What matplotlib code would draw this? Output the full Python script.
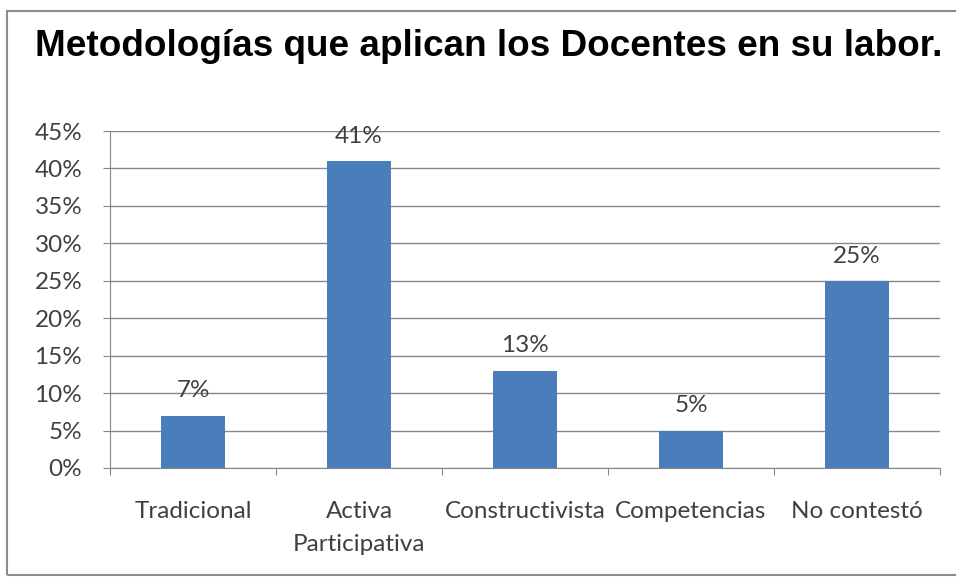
import matplotlib.pyplot as plt
from matplotlib.patches import Rectangle

# Data
categorias = ['Tradicional', 'Activa\nParticipativa', 'Constructivista', 'Competencias', 'No contestó']
porcentajes = [7, 41, 13, 5, 25]
etiquetas = ['7%', '41%', '13%', '5%', '25%']
yticks = [0, 5, 10, 15, 20, 25, 30, 35, 40, 45]
titulo = 'Metodologías que aplican los Docentes en su labor.'

color_barra = '#4A7EBB'
gris_texto = '#404040'
gris_linea = '#868686'

fig = plt.figure(figsize=(9.56, 5.8), dpi=100)
fig.patch.set_facecolor('white')

# outer frame of the chart
fig.patches.append(Rectangle((7 / 956, 1 - 575 / 580), 960 / 956, (575 - 11) / 580,
                             transform=fig.transFigure, fill=False,
                             edgecolor='#8c8c8c', linewidth=1.5))

fig.text(35 / 956, 1 - 47 / 580, titulo, fontsize=26.6, fontweight='bold',
         family='Liberation Sans', color='black', va='center', ha='left')

ax = fig.add_axes([110 / 956, 1 - 468 / 580, 830 / 956, 337 / 580])
x = range(len(categorias))
ax.bar(x, porcentajes, width=0.39, color=color_barra, zorder=3)

for xi, v, lab in zip(x, porcentajes, etiquetas):
    ax.text(xi, v + 3.3, lab, ha='center', va='center', fontsize=17.5,
            family='Lato', color=gris_texto)

ax.set_xlim(-0.5, len(categorias) - 0.5)
ax.set_ylim(0, 45)
ax.set_yticks(yticks)
ax.set_yticklabels([f'{t}%' for t in yticks], family='Lato', fontsize=17.5, color=gris_texto)
ax.yaxis.grid(True, color=gris_linea, linewidth=1, zorder=0)

# category labels and boundary ticks on x
ax.set_xticks([i - 0.5 for i in range(len(categorias) + 1)])
ax.set_xticklabels([])
ax.set_xticks(list(x), minor=True)
ax.set_xticklabels(categorias, minor=True, family='Lato', fontsize=17.5,
                   color=gris_texto, linespacing=1.7)
ax.tick_params(axis='x', which='minor', length=0, pad=24)
ax.tick_params(axis='x', which='major', length=5, color=gris_linea, direction='out')
ax.tick_params(axis='y', length=5, color=gris_linea, pad=15)

for s in ['top', 'right']:
    ax.spines[s].set_visible(False)
for s in ['left', 'bottom']:
    ax.spines[s].set_color(gris_linea)
    ax.spines[s].set_zorder(4)

fig.savefig('out.png', dpi=100)
